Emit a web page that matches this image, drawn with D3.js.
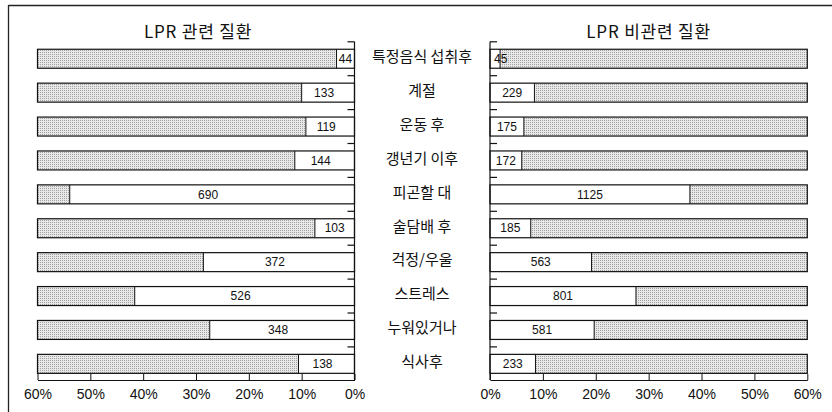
<!DOCTYPE html>
<html><head><meta charset="utf-8">
<script src="https://cdn.jsdelivr.net/npm/d3@7/dist/d3.min.js"></script>
<style>body{margin:0;background:#fff}svg{display:block}</style>
</head><body>
<svg id="c" width="832" height="412"></svg>
<script>
const categories = ["특정음식 섭취후","계절","운동 후","갱년기 이후","피곤할 대","술담배 후","걱정/우울","스트레스","누워있거나","식사후"];
const lprCounts = [44,133,119,144,690,103,372,526,348,138];
const lprPct = [3.4,10.0,9.2,11.3,53.9,7.5,28.6,41.6,27.4,10.6];
const nonCounts = [45,229,175,172,1125,185,563,801,581,233];
const nonPct = [1.9,8.4,6.4,6.0,37.8,7.7,19.2,27.6,19.7,8.6];
const tickValues = [0,10,20,30,40,50,60];
const titles = ["LPR 관련 질환","LPR 비관련 질환"];

const svg = d3.select("#c");
const latin = "'Liberation Sans',sans-serif";
const kr = "'Noto Sans CJK KR',sans-serif";

const defs = svg.append("defs");
const pat = defs.append("pattern").attr("id","dots").attr("width",2).attr("height",2).attr("patternUnits","userSpaceOnUse");
pat.append("rect").attr("width",2).attr("height",2).attr("fill","#e8e8e8");
pat.append("rect").attr("width",1).attr("height",1).attr("fill","#a2a2a2");

// frame
svg.append("line").attr("x1",8.5).attr("x2",832).attr("y1",5.5).attr("y2",5.5).attr("stroke","#222").attr("stroke-width",1.3);
svg.append("line").attr("x1",8.5).attr("x2",8.5).attr("y1",5).attr("y2",412).attr("stroke","#222").attr("stroke-width",1.3);

const y = d3.scaleBand().domain(categories).range([41.8,380.8]).paddingInner(0.44).paddingOuter(0.22);
const xL = d3.scaleLinear().domain([60,0]).range([37.5,354.5]);
const xR = d3.scaleLinear().domain([0,60]).range([490,807.3]);
const step = y.step(), bw = y.bandwidth(), off = (step-bw)/2;

function panel(x, counts, pct, left, title){
  const g = svg.append("g");
  const zero = x(0), full = x(60);
  const rows = g.selectAll("g.row").data(categories).join("g");
  rows.each(function(c,i){
    const r = d3.select(this);
    const y0 = y(c);
    const v = x(pct[i]);
    r.append("rect").attr("x",Math.min(v,full)).attr("y",y0).attr("width",Math.abs(full-v)).attr("height",bw).attr("fill","url(#dots)");
    r.append("rect").attr("x",Math.min(v,zero)).attr("y",y0).attr("width",Math.abs(zero-v)).attr("height",bw).attr("fill","#fff");
    r.append("rect").attr("x",Math.min(zero,full)).attr("y",y0).attr("width",Math.abs(full-zero)).attr("height",bw).attr("fill","none").attr("stroke","#111").attr("stroke-width",1.2);
    r.append("line").attr("x1",v).attr("x2",v).attr("y1",y0).attr("y2",y0+bw).attr("stroke","#111").attr("stroke-width",1);
    const wWhite = Math.abs(zero-v);
    let cx = (v+zero)/2 + (left && wWhite>40 ? -4 : 0);
    const t = r.append("text").attr("y",y0+bw/2).attr("dy","0.35em").attr("text-anchor","middle")
      .attr("font-family",latin).attr("font-size",12).attr("fill","#111").text(counts[i]);
    const w = t.node().getComputedTextLength();
    if(!left) cx = Math.max(cx, zero + w/2 + 4);
    t.attr("x",cx);
  });
  const dir = left ? -1 : 1;
  g.append("line").attr("x1",zero).attr("x2",zero).attr("y1",y.range()[0]).attr("y2",380).attr("stroke","#111").attr("stroke-width",1.2);
  const bounds = categories.map(c=>y(c)-off);
  g.selectAll("line.vt").data(bounds).join("line").attr("class","vt")
    .attr("x1",zero).attr("x2",zero+dir*7).attr("y1",d=>d).attr("y2",d=>d).attr("stroke","#111").attr("stroke-width",1.2);
  const ax = g.append("g").attr("transform","translate(0,380)")
    .call(d3.axisBottom(x).tickValues(tickValues).tickFormat(d=>d+"%").tickSizeInner(-6).tickSizeOuter(0).tickPadding(9));
  ax.select(".domain").attr("stroke","#111").attr("stroke-width",1.2);
  ax.selectAll(".tick line").attr("stroke","#111");
  ax.selectAll("text").attr("font-family",latin).attr("font-size",14).attr("fill","#111");
  g.append("text").attr("x",(zero+full)/2 + (left?2:0)).attr("y",38).attr("text-anchor","middle")
    .attr("font-family",kr).attr("font-size",17).attr("letter-spacing",0.8).attr("fill","#111").text(title);
}
panel(xL, lprCounts, lprPct, true, titles[0]);
panel(xR, nonCounts, nonPct, false, titles[1]);

svg.append("g").selectAll("text").data(categories).join("text")
  .attr("x",422).attr("y",c=>y(c)+bw/2-2).attr("dy","0.35em").attr("text-anchor","middle")
  .attr("font-family",kr).attr("font-size",15).attr("fill","#111").text(c=>c);
</script>
</body></html>
